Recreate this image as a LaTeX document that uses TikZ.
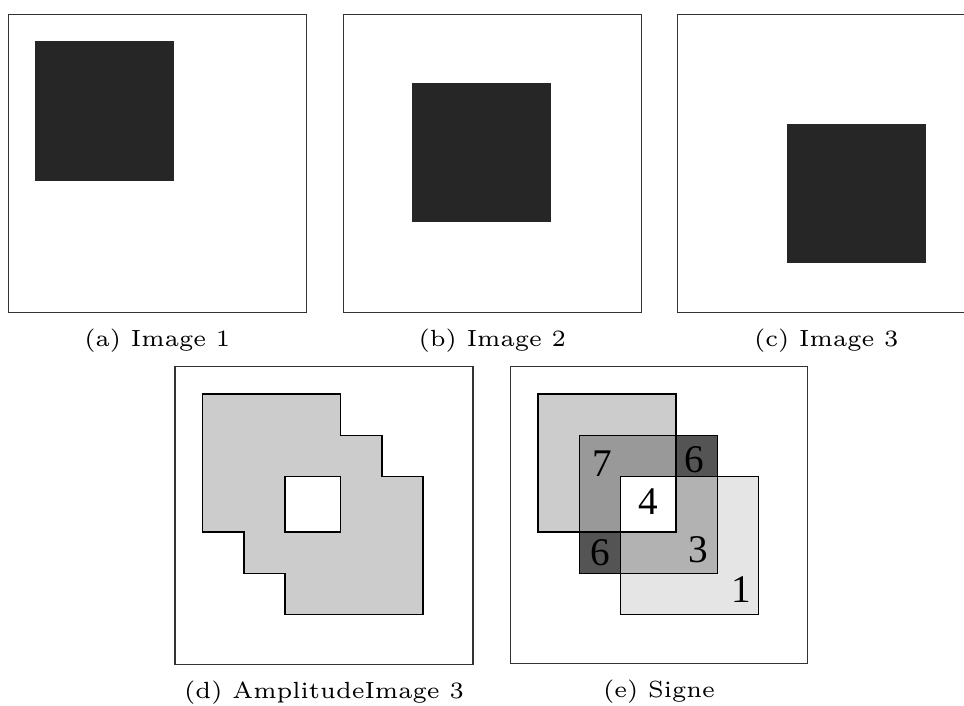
\documentclass[tikz,border=0pt]{standalone}
\usepackage{fontspec}
\newfontfamily\digitfont{Liberation Serif}
\usetikzlibrary{positioning}
\tikzset{
  frame/.style={draw=black!80,line width=.3pt},
  blob/.style={fill=black!85,draw=black!85,line width=.3pt},
  zone/.style={draw=black,line width=.3pt},
  caption/.style={inner sep=0pt,font=\fontsize{5.85}{7}\selectfont},
  digit/.style={inner sep=0pt,font=\digitfont\fontsize{9.8}{11}\selectfont},
}
\begin{document}
\begin{tikzpicture}[x=.25pt,y=-.25pt]
	\useasboundingbox (0,0) rectangle (964,706);
	% the three images
	\begin{scope}[shift={(8.3,14.5)}]
	    \draw[frame] (0,0) rectangle (298,298);
	    \draw[blob] (27.5,27.5) rectangle ++(138,138);
	    \coordinate (ia) at (149,298);
	\end{scope}
	\begin{scope}[shift={(343.3,14.5)}]
	    \draw[frame] (0,0) rectangle (298,298);
	    \draw[blob] (69,69) rectangle ++(138,138);
	    \coordinate (ib) at (149,298);
	\end{scope}
	\begin{scope}[shift={(677.3,14.5)}]
	    \draw[frame] (0,0) rectangle (298,298);
	    \draw[blob] (110,110) rectangle ++(138,138);
	    \coordinate (ic) at (149,298);
	\end{scope}
	\node[caption,below=4pt of ia] (ca) {(a) Image 1};
	\node[caption,below=4pt of ib] (cb) {(b) Image 2};
	\node[caption,below=4pt of ic] (cc) {(c) Image 3};
	% amplitude
	\begin{scope}[shift={(175,366.5)}]
	    \draw[frame] (0,0) rectangle (298,298);
	    \draw[zone,fill=black!20,even odd rule] (27.5,27.5) -| (165.5,69) -| (207,110) -| (248,248)
	    	-| (110,207) -| (69,165.5) -| (27.5,27.5) -- cycle
	    	(110,110) rectangle (165.5,165.5);
	    \coordinate (id) at (149,298);
	\end{scope}
	\node[caption,below=4pt of id] (cd) {(d) AmplitudeImage 3};
	% signe
	\begin{scope}[shift={(510.5,366.5)}]
	    \draw[frame] (0,0) rectangle (297,297);
	    \fill[black!20] (27.5,27.5) rectangle (165.5,165.5);
	    \fill[black!10] (110,110) rectangle (248,248);
	    \fill[black!40] (69,69) -| (165.5,110) -| (110,165.5) -| cycle;
	    \fill[black!30] (165.5,110) -| (207,207) -| (110,165.5) -| cycle;
	    \fill[black!67] (165.5,69) rectangle (207,110);
	    \fill[black!67] (69,165.5) rectangle (110,207);
	    \fill[white] (110,110) rectangle (165.5,165.5);
	    \draw[zone] (27.5,27.5) rectangle (165.5,165.5);
	    \draw[zone] (69,69) rectangle (207,207);
	    \draw[zone] (110,110) rectangle (248,248);
	    \node[digit] (n7) at (92,96.8) {7};
	    \node[digit] (n6a) at (183.7,93.5) {6};
	    \node[digit] (n4) at (137.3,135.2) {4};
	    \node[digit] (n6b) at (89.5,186) {6};
	    \node[digit] (n3) at (187.5,183.2) {3};
	    \node[digit] (n1) at (230.3,223.2) {1};
	    \coordinate (ie) at (148.5,297);
	\end{scope}
	\node[caption,below=4pt of ie] (ce) {(e) Signe};
\end{tikzpicture}
\end{document}
